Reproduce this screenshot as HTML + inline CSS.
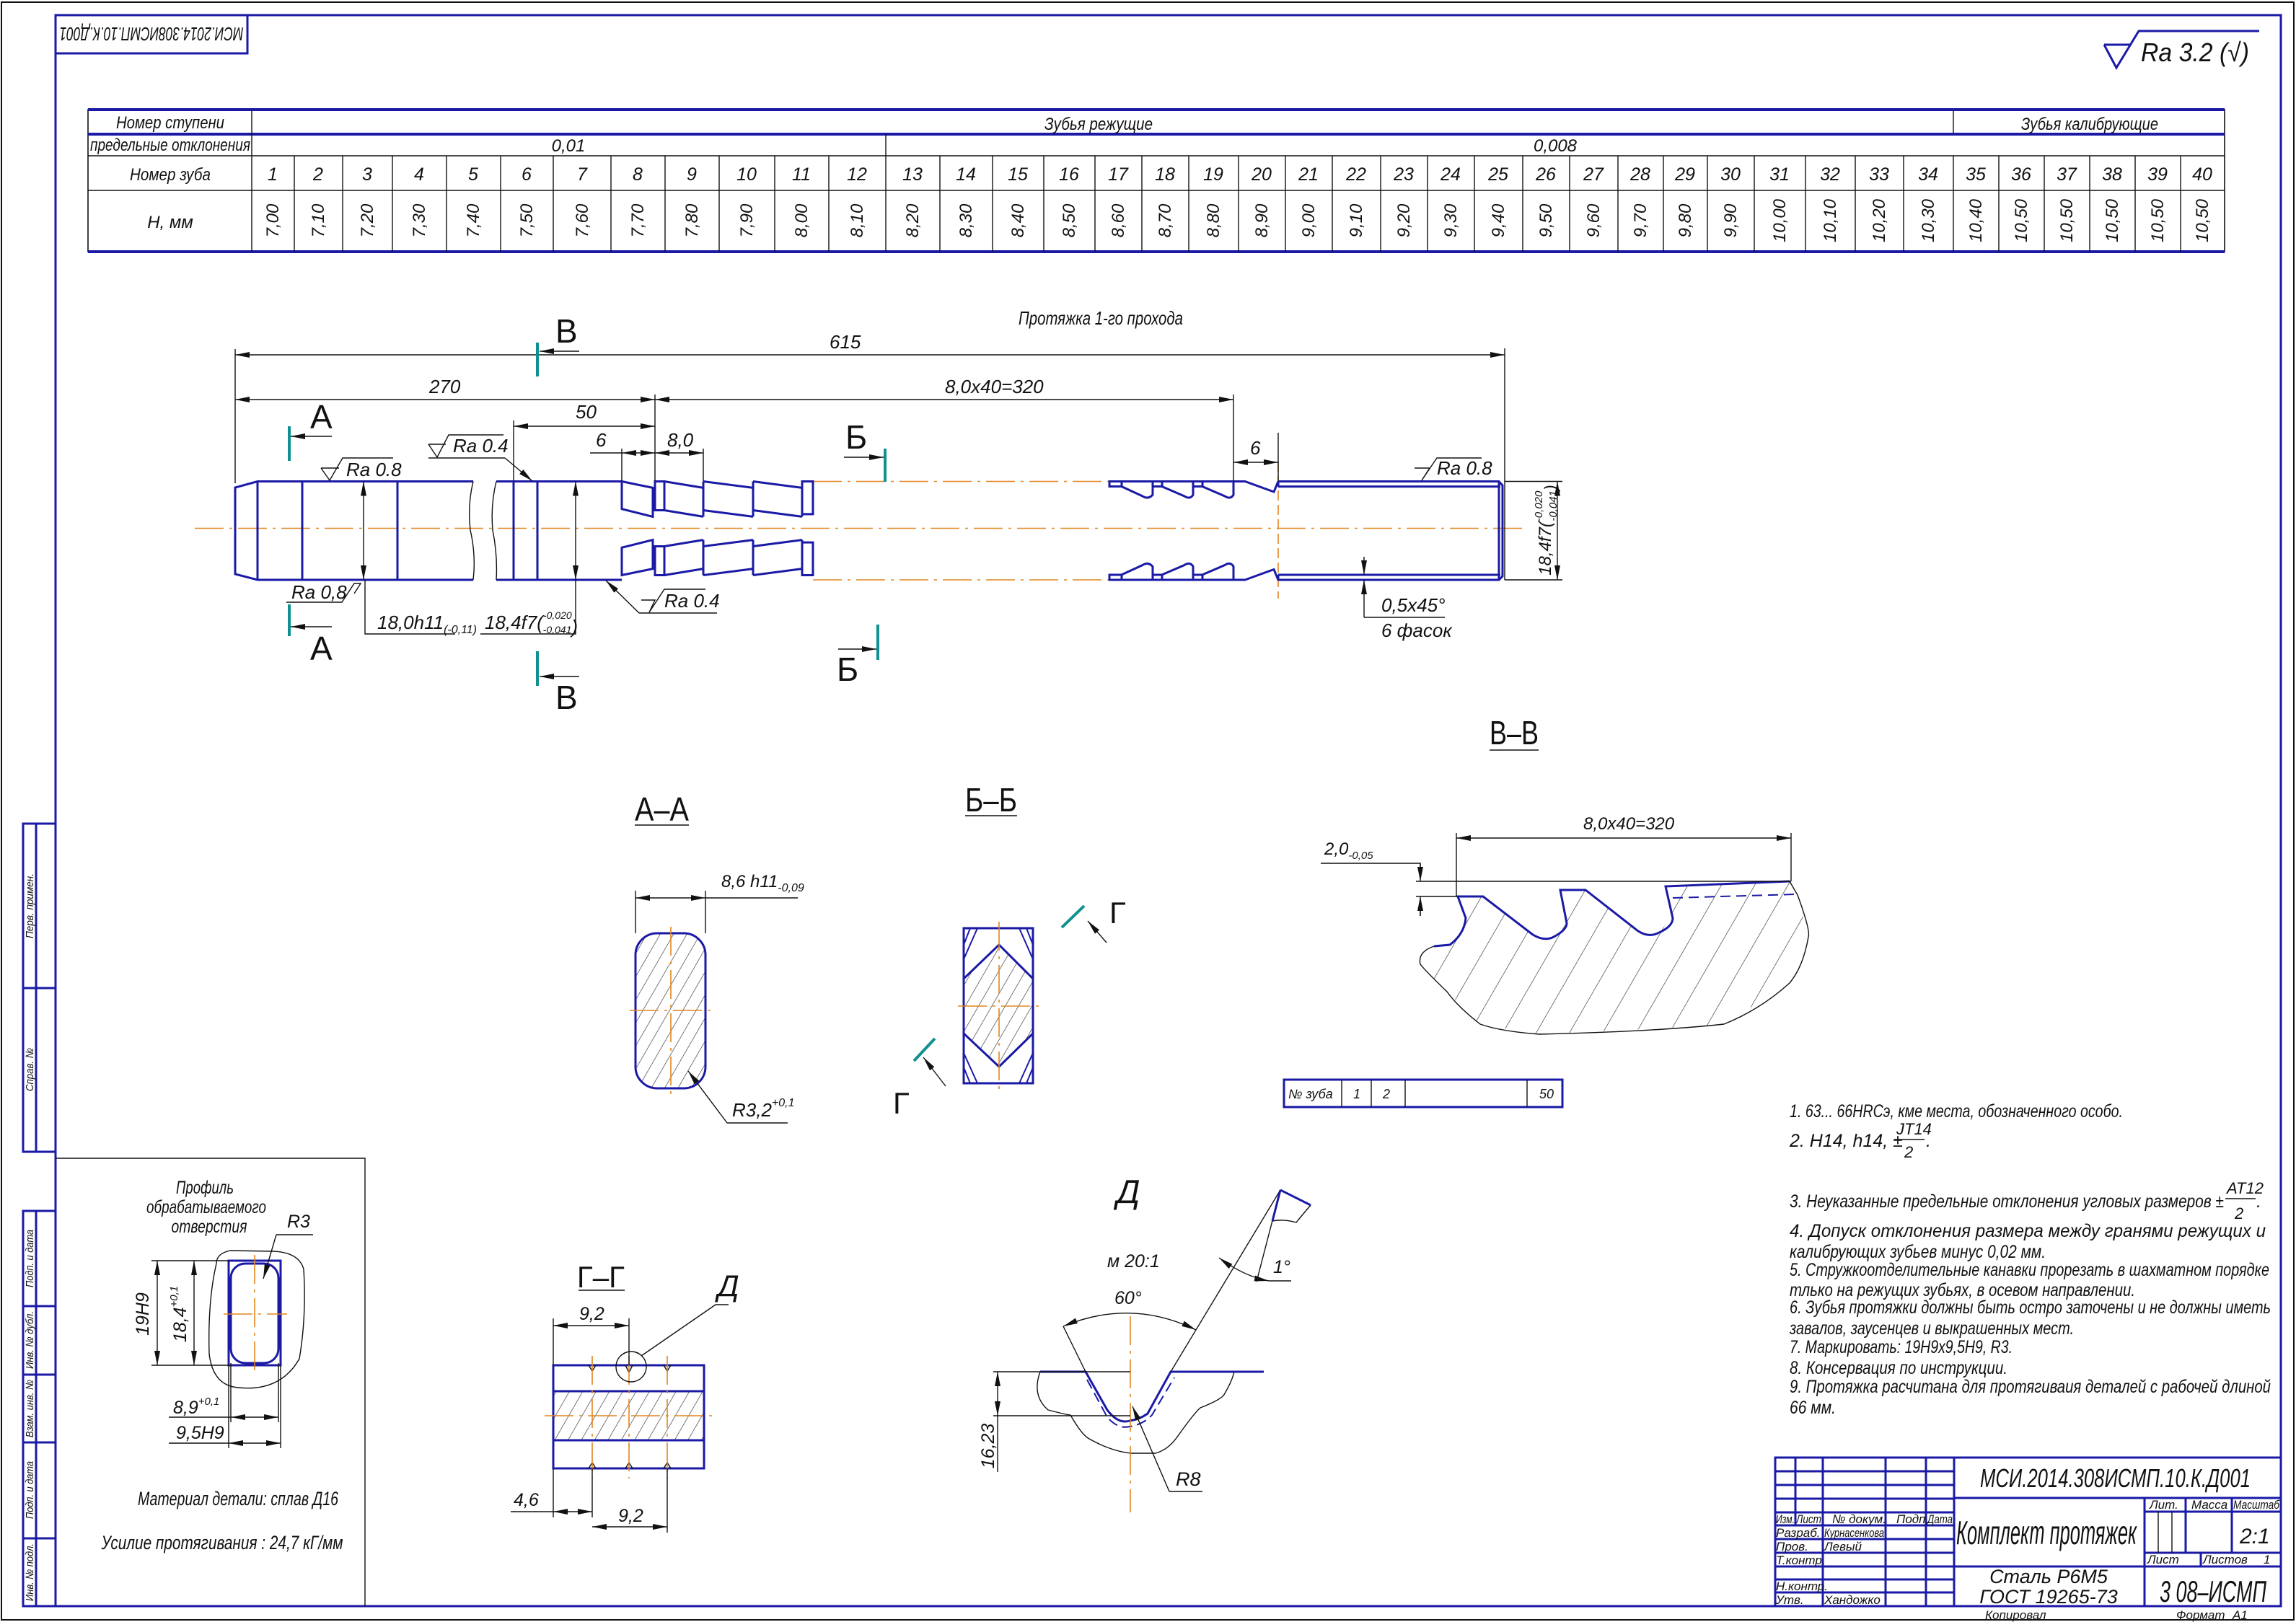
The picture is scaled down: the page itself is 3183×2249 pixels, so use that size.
<!DOCTYPE html>
<html><head><meta charset="utf-8"><style>
html,body{margin:0;padding:0;background:#fff;}
svg{display:block;}
text{font-family:"Liberation Sans","Noto Sans CJK SC",sans-serif;font-style:italic;fill:#111;}
.b{stroke:#1a1aa6;stroke-width:3;fill:none;}
.bt{stroke:#1a1aa6;stroke-width:2;fill:none;}
.k{stroke:#111;stroke-width:1.4;fill:none;}
.o{stroke:#e0861f;stroke-width:1.6;fill:none;stroke-dasharray:40 8 4 8;}
.od{stroke:#e0861f;stroke-width:1.6;fill:none;stroke-dasharray:14 6;}
.tl{stroke:#109090;stroke-width:4;fill:none;}
.up{font-style:normal;}
</style></head><body>
<svg width="3183" height="2249" viewBox="0 0 3183 2249" xmlns="http://www.w3.org/2000/svg">
<defs>
<marker id="ar" viewBox="0 0 20 8" refX="20" refY="4" markerWidth="20" markerHeight="8" markerUnits="userSpaceOnUse" orient="auto-start-reverse"><path d="M0,0 L20,4 L0,8 Z" fill="#111"/></marker>
<pattern id="h" width="16" height="16" patternUnits="userSpaceOnUse" patternTransform="rotate(30)"><line x1="0" y1="0" x2="0" y2="16" stroke="#222" stroke-width="1.2"/></pattern>
<pattern id="h2" width="40" height="40" patternUnits="userSpaceOnUse" patternTransform="rotate(30)"><line x1="0" y1="0" x2="0" y2="40" stroke="#222" stroke-width="1.2"/></pattern>
</defs>
<rect x="0" y="0" width="3183" height="2249" fill="#fff"/>
<rect x="2" y="3" width="3178" height="2243" fill="none" stroke="#111" stroke-width="2"/>
<rect x="77" y="21" width="3085" height="2206" fill="none" stroke="#1a1aa6" stroke-width="3"/>

<path class="b" d="M77,74 H343 V21"/>
<text transform="translate(210,47) rotate(180)" font-size="26" text-anchor="middle" dy="9" textLength="255" lengthAdjust="spacingAndGlyphs">МСИ.2014.308ИСМП.10.К.Д001</text>

<path class="b" d="M2917,62 H2953 M2917,62 L2934,94 L2965,43 H3132"/>
<text x="2968" y="85" font-size="36" textLength="150" lengthAdjust="spacingAndGlyphs">Ra 3.2 (√)</text>

<g class="b">
<rect x="32" y="1142" width="45" height="455"/>
<line x1="50" y1="1142" x2="50" y2="1597"/>
<line x1="32" y1="1370" x2="77" y2="1370"/>
<rect x="32" y="1679" width="45" height="548"/>
<line x1="50" y1="1679" x2="50" y2="2227"/>
<line x1="32" y1="1811" x2="77" y2="1811"/>
<line x1="32" y1="1906" x2="77" y2="1906"/>
<line x1="32" y1="2000" x2="77" y2="2000"/>
<line x1="32" y1="2133" x2="77" y2="2133"/>
</g>
<g font-size="15" text-anchor="middle">
<text transform="translate(46,1256) rotate(-90)" textLength="90" lengthAdjust="spacingAndGlyphs">Перв. примен.</text>
<text transform="translate(46,1483) rotate(-90)" textLength="60" lengthAdjust="spacingAndGlyphs">Справ. №</text>
<text transform="translate(46,1745) rotate(-90)" textLength="80" lengthAdjust="spacingAndGlyphs">Подп. и дата</text>
<text transform="translate(46,1858) rotate(-90)" textLength="80" lengthAdjust="spacingAndGlyphs">Инв. № дубл.</text>
<text transform="translate(46,1953) rotate(-90)" textLength="80" lengthAdjust="spacingAndGlyphs">Взам. инв. №</text>
<text transform="translate(46,2066) rotate(-90)" textLength="80" lengthAdjust="spacingAndGlyphs">Подп. и дата</text>
<text transform="translate(46,2180) rotate(-90)" textLength="80" lengthAdjust="spacingAndGlyphs">Инв. № подл.</text>
</g>

<g>
<rect x="122" y="152" width="2962" height="197" fill="none" stroke="#111" stroke-width="1.6"/>
<line x1="122" y1="152" x2="3084" y2="152" stroke="#1a1aa6" stroke-width="4"/>
<line x1="122" y1="186" x2="3084" y2="186" stroke="#1a1aa6" stroke-width="4"/>
<line x1="122" y1="349" x2="3084" y2="349" stroke="#1a1aa6" stroke-width="4"/>
<line class="k" x1="122" y1="216" x2="3084" y2="216"/>
<line class="k" x1="122" y1="264" x2="3084" y2="264"/>
<line class="k" x1="349" y1="152" x2="349" y2="349"/>
<line class="k" x1="2708" y1="152" x2="2708" y2="186"/>
<line class="k" x1="1228" y1="186" x2="1228" y2="216"/>
<g class="k">
<path d="M408,216V349 M475,216V349 M544,216V349 M619,216V349 M694,216V349 M767,216V349 M847,216V349 M922,216V349 M997,216V349 M1074,216V349 M1149,216V349 M1228,216V349 M1303,216V349 M1376,216V349 M1447,216V349 M1518,216V349 M1583,216V349 M1648,216V349 M1717,216V349 M1782,216V349 M1847,216V349 M1914,216V349 M1979,216V349 M2044,216V349 M2111,216V349 M2176,216V349 M2243,216V349 M2306,216V349 M2367,216V349 M2432,216V349 M2503,216V349 M2572,216V349 M2639,216V349 M2708,216V349 M2771,216V349 M2834,216V349 M2897,216V349 M2960,216V349 M3023,216V349"/>
</g>
<g font-size="24" text-anchor="middle">
<text x="236" y="178" textLength="150" lengthAdjust="spacingAndGlyphs">Номер ступени</text>
<text x="236" y="209" textLength="222" lengthAdjust="spacingAndGlyphs">предельные отклонения</text>
<text x="236" y="250" textLength="112" lengthAdjust="spacingAndGlyphs">Номер зуба</text>
<text x="236" y="316">H, мм</text>
<text x="1523" y="180" textLength="150" lengthAdjust="spacingAndGlyphs">Зубья режущие</text>
<text x="2897" y="180" textLength="190" lengthAdjust="spacingAndGlyphs">Зубья калибрующие</text>
<text x="788" y="210">0,01</text>
<text x="2156" y="210">0,008</text>
</g>
<g font-size="25" text-anchor="middle">
<text x="378" y="250">1</text><text x="441" y="250">2</text><text x="509" y="250">3</text><text x="581" y="250">4</text><text x="656" y="250">5</text><text x="730" y="250">6</text><text x="807" y="250">7</text><text x="884" y="250">8</text><text x="959" y="250">9</text><text x="1035" y="250">10</text><text x="1111" y="250">11</text><text x="1188" y="250">12</text><text x="1265" y="250">13</text><text x="1339" y="250">14</text><text x="1411" y="250">15</text><text x="1482" y="250">16</text><text x="1550" y="250">17</text><text x="1615" y="250">18</text><text x="1682" y="250">19</text><text x="1749" y="250">20</text><text x="1814" y="250">21</text><text x="1880" y="250">22</text><text x="1946" y="250">23</text><text x="2011" y="250">24</text><text x="2077" y="250">25</text><text x="2143" y="250">26</text><text x="2209" y="250">27</text><text x="2274" y="250">28</text><text x="2336" y="250">29</text><text x="2399" y="250">30</text><text x="2467" y="250">31</text><text x="2537" y="250">32</text><text x="2605" y="250">33</text><text x="2673" y="250">34</text><text x="2739" y="250">35</text><text x="2802" y="250">36</text><text x="2865" y="250">37</text><text x="2928" y="250">38</text><text x="2991" y="250">39</text><text x="3053" y="250">40</text>
</g>
<g font-size="24" text-anchor="middle">
<text transform="translate(386,306) rotate(-90)">7,00</text>
<text transform="translate(449,306) rotate(-90)">7,10</text>
<text transform="translate(517,306) rotate(-90)">7,20</text>
<text transform="translate(589,306) rotate(-90)">7,30</text>
<text transform="translate(664,306) rotate(-90)">7,40</text>
<text transform="translate(738,306) rotate(-90)">7,50</text>
<text transform="translate(815,306) rotate(-90)">7,60</text>
<text transform="translate(892,306) rotate(-90)">7,70</text>
<text transform="translate(967,306) rotate(-90)">7,80</text>
<text transform="translate(1043,306) rotate(-90)">7,90</text>
<text transform="translate(1119,306) rotate(-90)">8,00</text>
<text transform="translate(1196,306) rotate(-90)">8,10</text>
<text transform="translate(1273,306) rotate(-90)">8,20</text>
<text transform="translate(1347,306) rotate(-90)">8,30</text>
<text transform="translate(1419,306) rotate(-90)">8,40</text>
<text transform="translate(1490,306) rotate(-90)">8,50</text>
<text transform="translate(1558,306) rotate(-90)">8,60</text>
<text transform="translate(1623,306) rotate(-90)">8,70</text>
<text transform="translate(1690,306) rotate(-90)">8,80</text>
<text transform="translate(1757,306) rotate(-90)">8,90</text>
<text transform="translate(1822,306) rotate(-90)">9,00</text>
<text transform="translate(1888,306) rotate(-90)">9,10</text>
<text transform="translate(1954,306) rotate(-90)">9,20</text>
<text transform="translate(2019,306) rotate(-90)">9,30</text>
<text transform="translate(2085,306) rotate(-90)">9,40</text>
<text transform="translate(2151,306) rotate(-90)">9,50</text>
<text transform="translate(2217,306) rotate(-90)">9,60</text>
<text transform="translate(2282,306) rotate(-90)">9,70</text>
<text transform="translate(2344,306) rotate(-90)">9,80</text>
<text transform="translate(2407,306) rotate(-90)">9,90</text>
<text transform="translate(2475,306) rotate(-90)">10,00</text>
<text transform="translate(2545,306) rotate(-90)">10,10</text>
<text transform="translate(2613,306) rotate(-90)">10,20</text>
<text transform="translate(2681,306) rotate(-90)">10,30</text>
<text transform="translate(2747,306) rotate(-90)">10,40</text>
<text transform="translate(2810,306) rotate(-90)">10,50</text>
<text transform="translate(2873,306) rotate(-90)">10,50</text>
<text transform="translate(2936,306) rotate(-90)">10,50</text>
<text transform="translate(2999,306) rotate(-90)">10,50</text>
<text transform="translate(3061,306) rotate(-90)">10,50</text>
</g>
</g>

<text x="1412" y="450" font-size="26" textLength="228" lengthAdjust="spacingAndGlyphs">Протяжка 1-го прохода</text>
<line class="o" x1="270" y1="732.5" x2="2110" y2="732.5"/>
<line class="o" x1="1127" y1="667.5" x2="1538" y2="667.5"/>
<line class="o" x1="1127" y1="804" x2="1538" y2="804"/>
<line class="od" x1="1772" y1="640" x2="1772" y2="830"/>
<g class="b">
<path d="M656,667.5 H357 L326,676 V796 L357,804 H656"/>
<path d="M357,667.5 V804 M419,667.5 V804 M551,667.5 V804"/>
<path d="M688,667.5 H862 M688,804 H862 M712,667.5 V804 M745,667.5 V804"/>
<g id="rt">
<path d="M862,667.5 L905,676.4 V716.4 L862,705.7 Z"/>
<rect x="908" y="667.5" width="13" height="40"/>
<path d="M921,667.5 L975,676.4 M921,707.5 L975,716.4 M975,667.5 V716.4"/>
<path d="M975,667.5 L1044,676.4 M975,707.5 L1044,716.4 M1044,667.5 V716.4"/>
<path d="M1044,667.5 L1112,676.4 M1044,707.5 L1112,716.4 M1112,667.5 V716.4"/>
<rect x="1112" y="667.5" width="15" height="45.4"/>
</g>
<use href="#rt" transform="translate(0,1465) scale(1,-1)"/>
</g>
<path class="k" d="M656,667.5 Q648,700 652,735 Q660,770 656,804 M688,667.5 Q680,700 683,735 Q690,770 688,804"/>
<g class="b">
<g id="ft">
<path d="M1538,667.5 H1726 L1766,682 L1772,667.5"/>
<rect x="1538" y="667.5" width="17" height="7"/>
<path d="M1555,674.6 L1584,688 Q1592,693 1598,686 V667.5"/>
<rect x="1598" y="667.5" width="13" height="7"/>
<path d="M1611,674.6 L1642,688 Q1650,693 1654,686 V667.5"/>
<rect x="1654" y="667.5" width="13" height="7"/>
<path d="M1667,674.6 L1698,688 Q1706,693 1710,686 V667.5"/>
</g>
<use href="#ft" transform="translate(0,1471.5) scale(1,-1)"/>
<path d="M1772,667.5 H2078 L2083,673 V799 L2078,804 H1772 V797 M1772,667.5 V674.6 M1772,674.6 H2080 M1772,797 H2080 M2078,667.5 V804"/>
</g>

<g class="k">
<path d="M326,484 V670 M908,547 V667 M712,583 V667 M862,622 V667 M975,622 V667 M1710,547 V667 M1772,600 V667 M2086,483 V804 M2086,667.5 H2166 M2086,804 H2166"/>
<line x1="326" y1="492" x2="2086" y2="492" marker-start="url(#ar)" marker-end="url(#ar)"/>
<line x1="326" y1="554" x2="908" y2="554" marker-start="url(#ar)" marker-end="url(#ar)"/>
<line x1="908" y1="554" x2="1710" y2="554" marker-start="url(#ar)" marker-end="url(#ar)"/>
<line x1="712" y1="591" x2="908" y2="591" marker-start="url(#ar)" marker-end="url(#ar)"/>
<line x1="818" y1="628" x2="862" y2="628"/>
<line x1="862" y1="628" x2="908" y2="628" marker-start="url(#ar)" marker-end="url(#ar)"/>
<line x1="908" y1="628" x2="975" y2="628" marker-start="url(#ar)" marker-end="url(#ar)"/>
<line x1="1710" y1="641" x2="1772" y2="641" marker-start="url(#ar)" marker-end="url(#ar)"/>
<line x1="504" y1="667.5" x2="504" y2="804" marker-start="url(#ar)" marker-end="url(#ar)"/>
<line x1="798" y1="667.5" x2="798" y2="804" marker-start="url(#ar)" marker-end="url(#ar)"/>
<line x1="2159" y1="667.5" x2="2159" y2="804" marker-start="url(#ar)" marker-end="url(#ar)"/>
<path d="M506,804 V879 H631 M798,804 V879 H666"/>
<line x1="1891" y1="772" x2="1891" y2="797" marker-end="url(#ar)"/>
<line x1="1891" y1="856" x2="1891" y2="804" marker-end="url(#ar)"/>
<path d="M1891,856 H2003"/>
<path d="M445,649 H470 M445,649 L457,666 L475,635 H545"/>
<path d="M594,616 H618 M594,616 L606,634 L622,603 H698 M594,635 H700"/>
<line x1="700" y1="635" x2="738" y2="667" marker-end="url(#ar)"/>
<path d="M397,835 H474 L491,809 H500 L491,823"/>
<path d="M886,850 H994 M889,832 H908 L900,849 L921,817 H978"/>
<line x1="886" y1="850" x2="840" y2="805" marker-end="url(#ar)"/>
<path d="M1961,649 H1982 L1971,666 L1992,635 H2054"/>
</g>
<g font-size="26">
<text x="1150" y="483">615</text>
<text x="595" y="545">270</text>
<text x="1310" y="545">8,0x40=320</text>
<text x="798" y="580">50</text>
<text x="826" y="619">6</text>
<text x="925" y="619">8,0</text>
<text x="1733" y="630">6</text>
<text x="480" y="660">Ra 0.8</text>
<text x="628" y="627">Ra 0.4</text>
<text x="404" y="830">Ra 0,8</text>
<text x="921" y="842">Ra 0.4</text>
<text x="1992" y="658">Ra 0.8</text>
<text x="523" y="872">18,0h11<tspan font-size="16" dy="6">(-0,11)</tspan></text>
<text x="672" y="872">18,4f7(<tspan font-size="14" dy="-14">-0,020</tspan><tspan font-size="14" dx="-40" dy="20">-0,041</tspan>)</text>
<text x="1915" y="848">0,5x45°</text>
<text x="1915" y="883">6 фасок</text>
<text transform="translate(2150,735) rotate(-90)" text-anchor="middle" font-size="24">18,4f7(<tspan font-size="15" dy="-12">-0,020</tspan><tspan font-size="15" dx="-42" dy="20">-0,041</tspan>)</text>
</g>
<g class="tl">
<path d="M401,591 V639 M401,838 V882 M745,475 V522 M745,903 V951 M1227,622 V668 M1217,866 V915"/>
</g>
<g class="k">
<line x1="460" y1="605" x2="403" y2="605" marker-end="url(#ar)"/>
<line x1="460" y1="869" x2="403" y2="869" marker-end="url(#ar)"/>
<line x1="803" y1="487" x2="748" y2="487" marker-end="url(#ar)"/>
<line x1="803" y1="938" x2="748" y2="938" marker-end="url(#ar)"/>
<line x1="1170" y1="634" x2="1225" y2="634" marker-end="url(#ar)"/>
<line x1="1162" y1="900" x2="1215" y2="900" marker-end="url(#ar)"/>
</g>
<g font-size="46">
<text x="430" y="594" class="up">А</text>
<text x="430" y="915" class="up">А</text>
<text x="770" y="475" class="up">В</text>
<text x="770" y="983" class="up">В</text>
<text x="1172" y="622" class="up">Б</text>
<text x="1160" y="944" class="up">Б</text>
</g>

<text x="880" y="1138" font-size="46" class="up" textLength="75" lengthAdjust="spacingAndGlyphs">А–А</text>
<line class="k" x1="880" y1="1144" x2="955" y2="1144" stroke-width="2.5"/>
<rect x="881" y="1294" width="97" height="215" rx="30" ry="30" fill="url(#h)" stroke="#1a1aa6" stroke-width="3"/>
<line class="o" x1="930" y1="1285" x2="930" y2="1518"/>
<line class="o" x1="873" y1="1401" x2="987" y2="1401"/>
<g class="k">
<path d="M881,1235 V1294 M978,1235 V1294 M978,1245 H1106"/>
<line x1="881" y1="1245" x2="978" y2="1245" marker-start="url(#ar)" marker-end="url(#ar)"/>
<path d="M1008,1557 H1092"/>
<line x1="1008" y1="1557" x2="954" y2="1485" marker-end="url(#ar)"/>
</g>
<text x="1000" y="1230" font-size="24">8,6 h11<tspan font-size="16" dy="6">-0,09</tspan></text>
<text x="1015" y="1548" font-size="26">R3,2<tspan font-size="16" dy="-14">+0,1</tspan></text>

<text x="1338" y="1125" font-size="46" class="up" textLength="72" lengthAdjust="spacingAndGlyphs">Б–Б</text>
<line class="k" x1="1338" y1="1131" x2="1410" y2="1131" stroke-width="2.5"/>
<path d="M1385,1310 L1432,1357 V1433 L1385,1479 L1336,1433 V1357 Z" fill="url(#h)" stroke="#1a1aa6" stroke-width="3"/>
<rect class="b" x="1336" y="1287" width="96" height="215"/>
<g class="bt">
<path d="M1336,1330 L1355,1287 M1336,1310 L1345,1287 M1432,1330 L1413,1287 M1432,1310 L1423,1287 M1336,1460 L1355,1502 M1336,1480 L1345,1502 M1432,1460 L1413,1502 M1432,1480 L1423,1502"/>
</g>
<line class="o" x1="1385" y1="1278" x2="1385" y2="1510"/>
<line class="o" x1="1328" y1="1395" x2="1442" y2="1395"/>
<g class="tl"><path d="M1472,1286 L1503,1256 M1267,1471 L1296,1440"/></g>
<g class="k">
<line x1="1534" y1="1307" x2="1508" y2="1277" marker-end="url(#ar)"/>
<line x1="1311" y1="1506" x2="1280" y2="1466" marker-end="url(#ar)"/>
</g>
<text x="1538" y="1280" font-size="42" class="up">Г</text>
<text x="1238" y="1544" font-size="42" class="up">Г</text>

<text x="2065" y="1032" font-size="46" class="up" textLength="68" lengthAdjust="spacingAndGlyphs">В–В</text>
<line class="k" x1="2065" y1="1040" x2="2133" y2="1040" stroke-width="2.5"/>
<path d="M1988,1312 L2024,1302 L2032,1273 L2021,1243 L2056,1243 L2125,1296 L2152,1300 L2172,1280 L2163,1234 L2198,1234 L2271,1291 L2298,1294 L2319,1273 L2309,1229 L2481,1222 L2492,1241 L2507,1299 L2481,1363 L2390,1420 L2298,1426 L2134,1434 L2052,1420 L2006,1375 L1969,1337 Z" fill="url(#h2)" stroke="none"/>
<path class="k" d="M2481,1222 L2492,1241 Q2510,1290 2507,1299 Q2500,1340 2481,1363 Q2440,1400 2390,1420 Q2300,1430 2134,1434 Q2080,1430 2052,1420 Q2020,1395 2006,1375 Q1975,1345 1969,1337 Q1965,1320 1988,1312"/>
<path class="b" d="M1988,1312 L2010,1310 Q2030,1295 2032,1273 L2021,1243 H2056 L2125,1296 Q2140,1305 2152,1300 Q2172,1290 2172,1280 L2163,1234 H2198 L2271,1291 Q2285,1300 2298,1294 Q2319,1285 2319,1273 L2309,1229 L2481,1222"/>
<path class="bt" d="M2319,1245 L2489,1240" stroke-dasharray="14 8"/>
<g class="k">
<path d="M1963,1222 H2483 M1963,1243 H2021 M2019,1155 V1243 M2483,1155 V1222 M1831,1197 H1969 V1215 M1969,1250 V1270"/>
<line x1="2019" y1="1162" x2="2483" y2="1162" marker-start="url(#ar)" marker-end="url(#ar)"/>
<line x1="1969" y1="1197" x2="1969" y2="1222" marker-end="url(#ar)"/>
<line x1="1969" y1="1270" x2="1969" y2="1243" marker-end="url(#ar)"/>
</g>
<text x="2195" y="1150" font-size="24">8,0x40=320</text>
<text x="1836" y="1185" font-size="24">2,0<tspan font-size="15" dy="6">-0,05</tspan></text>
<rect x="1780" y="1497" width="386" height="38" fill="none" stroke="#1a1aa6" stroke-width="3"/>
<path class="k" d="M1860,1497 V1535 M1901,1497 V1535 M1948,1497 V1535 M2117,1497 V1535"/>
<g font-size="18"><text x="1786" y="1523">№ зуба</text><text x="1876" y="1523">1</text><text x="1917" y="1523">2</text><text x="2134" y="1523">50</text></g>

<g font-size="25">
<text x="2481" y="1549" textLength="462" lengthAdjust="spacingAndGlyphs">1. 63... 66HRCэ, кме места, обозначенного особо.</text>
<text x="2481" y="1590">2. H14, h14, ±</text>
<text x="2629" y="1573" font-size="22">JT14</text><line class="k" x1="2626" y1="1580" x2="2668" y2="1580"/><text x="2640" y="1605" font-size="22">2</text><text x="2670" y="1590">.</text>
<text x="2481" y="1674" textLength="602" lengthAdjust="spacingAndGlyphs">3. Неуказанные предельные отклонения угловых размеров ±</text>
<text x="3087" y="1655" font-size="22">AT12</text><line class="k" x1="3085" y1="1662" x2="3127" y2="1662"/><text x="3098" y="1690" font-size="22">2</text><text x="3128" y="1674">.</text>
<text x="2481" y="1715" textLength="660" lengthAdjust="spacingAndGlyphs">4. Допуск отклонения размера между гранями режущих и</text>
<text x="2481" y="1744" textLength="355" lengthAdjust="spacingAndGlyphs">калибрующих зубьев минус 0,02 мм.</text>
<text x="2481" y="1769" textLength="665" lengthAdjust="spacingAndGlyphs">5. Стружкоотделительные канавки прорезать в шахматном порядке</text>
<text x="2481" y="1797" textLength="479" lengthAdjust="spacingAndGlyphs">тлько на режущих зубьях, в осевом направлении.</text>
<text x="2481" y="1821" textLength="667" lengthAdjust="spacingAndGlyphs">6. Зубья протяжки должны быть остро заточены и не должны иметь</text>
<text x="2481" y="1850" textLength="394" lengthAdjust="spacingAndGlyphs">завалов, заусенцев и выкрашенных мест.</text>
<text x="2481" y="1876" textLength="309" lengthAdjust="spacingAndGlyphs">7. Маркировать: 19H9x9,5H9, R3.</text>
<text x="2481" y="1905" textLength="302" lengthAdjust="spacingAndGlyphs">8. Консервация по инструкции.</text>
<text x="2481" y="1931" textLength="667" lengthAdjust="spacingAndGlyphs">9. Протяжка расчитана для протягиваия деталей с рабочей длиной</text>
<text x="2481" y="1960" textLength="64" lengthAdjust="spacingAndGlyphs">66 мм.</text>
</g>

<path class="k" d="M77,1606 H506 V2227"/>
<g font-size="25" text-anchor="middle">
<text x="284" y="1655" textLength="80" lengthAdjust="spacingAndGlyphs">Профиль</text>
<text x="286" y="1682" textLength="166" lengthAdjust="spacingAndGlyphs">обрабатываемого</text>
<text x="290" y="1709" textLength="105" lengthAdjust="spacingAndGlyphs">отверстия</text>
</g>
<text x="398" y="1702" font-size="25">R3</text>
<path class="k" d="M300,1752 Q288,1803 290,1877 Q295,1921 330,1924 Q389,1930 415,1884 Q425,1825 421,1760 Q415,1737 380,1735 L319,1734 Q300,1738 300,1752"/>
<rect class="b" x="317" y="1748" width="72" height="145"/>
<rect class="b" x="320" y="1752" width="66" height="138" rx="20" ry="20"/>
<line class="o" x1="353" y1="1740" x2="353" y2="1900"/>
<line class="o" x1="310" y1="1822" x2="398" y2="1822"/>
<g class="k">
<path d="M383,1712 H434"/>
<line x1="383" y1="1712" x2="365" y2="1773" marker-end="url(#ar)"/>
<path d="M210,1748 H317 M210,1893 H317"/>
<line x1="218" y1="1748" x2="218" y2="1893" marker-start="url(#ar)" marker-end="url(#ar)"/>
<line x1="269" y1="1748" x2="269" y2="1893" marker-start="url(#ar)" marker-end="url(#ar)"/>
<path d="M320,1890 V1972 M386,1890 V1972 M317,1893 V2008 M389,1893 V2008 M234,1965 H320 M234,2001 H317"/>
<line x1="320" y1="1965" x2="386" y2="1965" marker-start="url(#ar)" marker-end="url(#ar)"/>
<line x1="317" y1="2001" x2="389" y2="2001" marker-start="url(#ar)" marker-end="url(#ar)"/>
</g>
<text transform="translate(206,1822) rotate(-90)" font-size="25" text-anchor="middle">19H9</text>
<text transform="translate(258,1822) rotate(-90)" font-size="25" text-anchor="middle">18,4<tspan font-size="15" dy="-12">+0,1</tspan></text>
<text x="240" y="1960" font-size="25">8,9<tspan font-size="15" dy="-12">+0,1</tspan></text>
<text x="244" y="1995" font-size="25">9,5H9</text>
<text x="330" y="2087" font-size="27" text-anchor="middle" textLength="278" lengthAdjust="spacingAndGlyphs">Материал детали: сплав Д16</text>
<text x="308" y="2148" font-size="27" text-anchor="middle" textLength="335" lengthAdjust="spacingAndGlyphs">Усилие протягивания : 24,7 кГ/мм</text>

<text x="800" y="1785" font-size="42" class="up" textLength="66" lengthAdjust="spacingAndGlyphs">Г–Г</text>
<line class="k" x1="802" y1="1789" x2="866" y2="1789" stroke-width="2.5"/>
<rect x="767" y="1929" width="209" height="68" fill="url(#h)"/>
<rect class="b" x="767" y="1893" width="209" height="143"/>
<path class="b" d="M767,1929 H976 M767,1997 H976"/>
<path class="k" d="M816,1893 L821,1901 L826,1893 M867,1893 L872,1903 L877,1893 M920,1893 L925,1901 L930,1893 M816,2036 L821,2028 L826,2036 M867,2036 L872,2028 L877,2036 M920,2036 L925,2028 L930,2036"/>
<g class="o"><path d="M821,1880 V2050 M872,1880 V2050 M925,1880 V2050 M755,1963 H990"/></g>
<circle class="k" cx="875" cy="1895" r="21"/>
<g class="k">
<path d="M889,1880 L992,1809 H1010 M767,1828 V1893 M872,1828 V1893 M767,2036 V2104 M821,2036 V2104 M925,2036 V2125 M708,2096 H767"/>
<line x1="767" y1="1838" x2="872" y2="1838" marker-start="url(#ar)" marker-end="url(#ar)"/>
<line x1="767" y1="2096" x2="821" y2="2096" marker-start="url(#ar)" marker-end="url(#ar)"/>
<line x1="821" y1="2117" x2="925" y2="2117" marker-start="url(#ar)" marker-end="url(#ar)"/>
</g>
<text x="803" y="1830" font-size="25">9,2</text>
<text x="712" y="2088" font-size="25">4,6</text>
<text x="857" y="2110" font-size="25">9,2</text>
<text x="995" y="1797" font-size="42">Д</text>

<text x="1548" y="1668" font-size="46">Д</text>
<text x="1535" y="1757" font-size="25">м 20:1</text>
<text x="1545" y="1808" font-size="25">60°</text>
<text x="1765" y="1765" font-size="25">1°</text>
<path class="k" d="M1442,1902 Q1430,1935 1453,1955 Q1480,1962 1484,1962 Q1500,1990 1510,1995 Q1540,2012 1568,2015 L1602,2015 Q1620,2010 1633,1991 Q1655,1960 1664,1952 Q1695,1940 1698,1932 Q1708,1915 1711,1902"/>
<path class="b" d="M1442,1902 H1505 L1535,1955 Q1550,1975 1566,1970 Q1580,1968 1591,1960 L1623,1902 H1752"/>
<path class="bt" stroke-dasharray="14 7" d="M1507,1913 L1535,1965 Q1550,1982 1566,1978 Q1585,1975 1597,1962 L1628,1910"/>
<line class="o" x1="1567" y1="1825" x2="1567" y2="2097"/>
<g class="k">
<path d="M1505,1902 L1474,1839 M1623,1902 L1775,1650 L1742,1777 M1775,1650 L1764,1693 Q1780,1690 1797,1695 Q1805,1685 1817,1671"/>
<path d="M1474,1839 Q1568,1800 1658,1844" marker-start="url(#ar)" marker-end="url(#ar)"/>
<path d="M1690,1744 Q1725,1770 1759,1776" marker-start="url(#ar)" marker-end="url(#ar)"/>
<path d="M1759,1776 H1790"/>
<path d="M1377,1902 H1567 M1377,1963 H1567 M1383,1963 V2041"/>
<line x1="1383" y1="1902" x2="1383" y2="1963" marker-start="url(#ar)" marker-end="url(#ar)"/>
<path d="M1667,2068 H1621"/>
<line x1="1621" y1="2068" x2="1570" y2="1950" marker-end="url(#ar)"/>
</g>
<path class="b" d="M1775,1650 L1817,1671 M1775,1650 L1764,1693"/>
<text transform="translate(1378,2005) rotate(-90)" font-size="25" text-anchor="middle">16,23</text>
<text x="1630" y="2060" font-size="27">R8</text>

<g class="b">
<rect x="2461" y="2021" width="701" height="206"/>
<path d="M2489,2021 V2115 M2527,2021 V2227 M2614,2021 V2227 M2670,2021 V2227 M2709,2021 V2227"/>
<path d="M2461,2040 H2709 M2461,2059 H2709 M2461,2078 H2709 M2461,2097 H2709 M2461,2115 H2709 M2461,2134 H2709 M2461,2153 H2709 M2461,2172 H2709 M2461,2190 H2709 M2461,2208 H2709"/>
<path d="M2709,2077 H3162 M2973,2077 V2227 M2973,2096 H3162 M3030,2077 V2153 M3094,2077 V2153 M2973,2153 H3162 M2709,2172 H3162 M3051,2153 V2172"/>
</g>
<path class="k" d="M2992,2096 V2153 M3011,2096 V2153"/>
<text x="2745" y="2062" font-size="36" textLength="375" lengthAdjust="spacingAndGlyphs">МСИ.2014.308ИСМП.10.К.Д001</text>
<text x="2712" y="2141" font-size="46" textLength="250" lengthAdjust="spacingAndGlyphs">Комплект протяжек</text>
<text x="2840" y="2195" font-size="27" text-anchor="middle">Сталь Р6М5</text>
<text x="2840" y="2223" font-size="27" text-anchor="middle">ГОСТ 19265-73</text>
<text x="2994" y="2221" font-size="42" textLength="148" lengthAdjust="spacingAndGlyphs">3 08–ИСМП</text>
<text x="3105" y="2140" font-size="30">2:1</text>
<g font-size="17">
<text x="2980" y="2092">Лит.</text><text x="3038" y="2092">Масса</text><text x="3096" y="2092" textLength="64" lengthAdjust="spacingAndGlyphs">Масштаб</text>
<text x="2977" y="2168">Лист</text><text x="3054" y="2168">Листов</text><text x="3138" y="2168">1</text>
<text x="2462" y="2112" textLength="26" lengthAdjust="spacingAndGlyphs">Изм.</text><text x="2490" y="2112" textLength="35" lengthAdjust="spacingAndGlyphs">Лист</text><text x="2540" y="2112">№ докум.</text><text x="2629" y="2112">Подп.</text><text x="2672" y="2112" textLength="35" lengthAdjust="spacingAndGlyphs">Дата</text>
<text x="2462" y="2131">Разраб.</text><text x="2529" y="2131" textLength="83" lengthAdjust="spacingAndGlyphs">Курнасенкова</text>
<text x="2462" y="2150">Пров.</text><text x="2529" y="2150">Левый</text>
<text x="2462" y="2169">Т.контр.</text>
<text x="2462" y="2205">Н.контр.</text>
<text x="2462" y="2224">Утв.</text><text x="2529" y="2224">Хандожко</text>
<text x="2752" y="2245">Копировал</text>
<text x="3017" y="2245">Формат</text><text x="3095" y="2245">A1</text>
</g>
</svg>
</body></html>
